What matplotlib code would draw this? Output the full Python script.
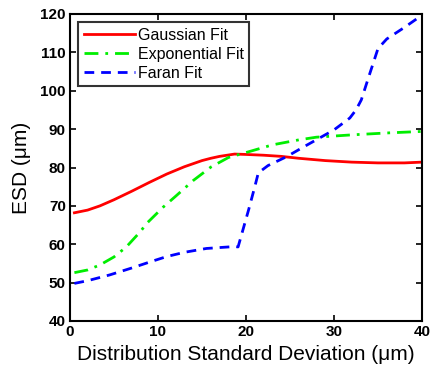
import matplotlib
matplotlib.use('Agg')
import matplotlib.pyplot as plt
import numpy as np

plt.rcParams['font.family'] = ['Liberation Sans', 'DejaVu Sans']

# values
gauss_x = [0.5, 2, 3.4, 5, 7, 9, 10, 11, 13, 15, 16, 17, 18.7, 20, 22, 24, 26, 29, 32, 35, 38, 40]
gauss_y = [68.2, 68.9, 70.0, 71.6, 73.8, 76.1, 77.2, 78.3, 80.2, 81.8, 82.4, 82.9, 83.5, 83.4, 83.2, 82.9, 82.4, 81.8, 81.4, 81.2, 81.2, 81.4]

expo_x = [0.5, 2, 3.4, 5, 6.4, 8, 8.7, 10.6, 12, 14, 16, 18, 20.3, 23, 26, 28, 32, 36, 40]
expo_y = [52.6, 53.3, 54.6, 56.7, 59.3, 63.3, 65.4, 69.7, 72.5, 76.6, 80.1, 82.6, 84.1, 85.9, 87.2, 87.9, 88.5, 89.0, 89.4]

faran_x = [0.5, 2, 4.5, 7, 9.1, 11, 13, 15.5, 17.4, 18.7, 19.1, 20.3, 21, 21.4, 22.5, 24.6, 26.5, 28.6, 30, 31.8, 32.5, 33.1, 34, 35, 36, 38, 40]
faran_y = [49.8, 50.5, 52.0, 53.8, 55.4, 56.8, 57.9, 58.9, 59.2, 59.4, 59.3, 69.0, 75.0, 78.6, 80.5, 82.8, 85.3, 88.0, 89.8, 92.9, 95.0, 97.6, 104.0, 111.0, 113.5, 116.5, 119.7]

fig = plt.figure(figsize=(4.3, 3.74), dpi=100)
ax = fig.add_axes([70 / 430, 1 - 321 / 374, 352 / 430, 307 / 374])

ax.plot(gauss_x, gauss_y, color='#ff0000', linestyle='-', linewidth=2, label='Gaussian Fit')
ax.plot(expo_x, expo_y, color='#00ee00', linestyle=(0, (5, 2.5, 1, 2.5)), linewidth=2, label='Exponential Fit')
ax.plot(faran_x, faran_y, color='#0000ff', linestyle=(0, (3.5, 2.5)), linewidth=2, label='Faran Fit')

ax.set_xlim(0, 40)
ax.set_ylim(40, 120)
ax.set_xticks([0, 10, 20, 30, 40])
ax.set_yticks(range(40, 121, 10))
ax.tick_params(direction='in', top=True, right=True, length=4, width=1.2, labelsize=11, pad=3)
for lbl in ax.get_xticklabels() + ax.get_yticklabels():
    lbl.set_fontweight('bold')
for sp in ax.spines.values():
    sp.set_linewidth(1.5)

ax.set_xlabel('Distribution Standard Deviation (μm)', fontsize=15, labelpad=4)
ax.set_ylabel('ESD (μm)', fontsize=15, labelpad=7)

leg = ax.legend(loc='upper left', fontsize=11.5, frameon=True, fancybox=False, edgecolor='black',
                handlelength=3.2, handletextpad=0.2, borderpad=0.35, labelspacing=0.25,
                borderaxespad=0.5)
leg.get_frame().set_linewidth(1.5)

fig.savefig('out.png', dpi=100)
